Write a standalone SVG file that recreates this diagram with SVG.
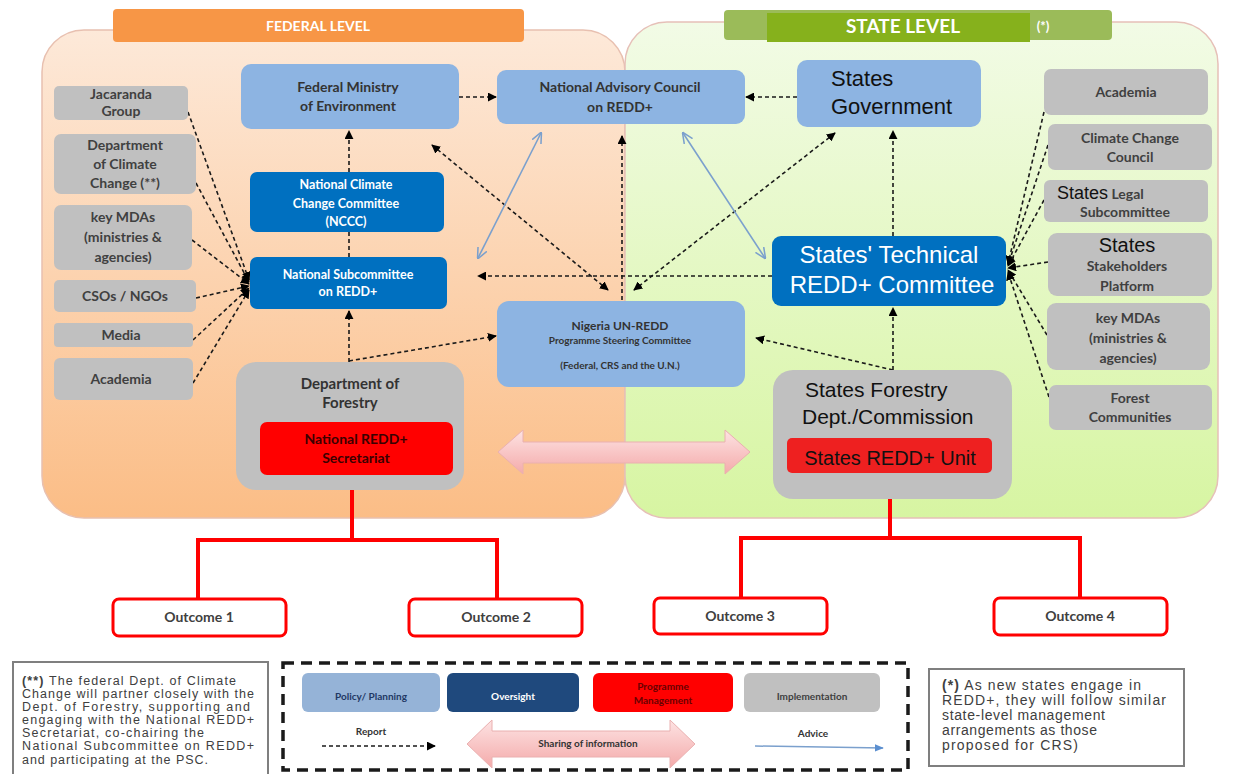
<svg xmlns="http://www.w3.org/2000/svg" width="1239" height="774" viewBox="0 0 1239 774">
<style>
.t{font-family:Lato,"Liberation Sans",sans-serif;font-weight:700;text-anchor:middle}
.g{fill:#c0c0c0}
.gt{fill:#404040;font-size:14px}
.lb{fill:#8db4e2}
.db{fill:#0070c0}
.a{font-family:"Liberation Sans",Arial,sans-serif}
.rep{fill:none;stroke:#1a1a1a;stroke-width:1.6;stroke-dasharray:4 3}
.adv{fill:none;stroke:#7ba0cd;stroke-width:1.6}
.red{fill:none;stroke:#ff0000;stroke-width:4}
.oc{fill:#fff;stroke:#ff0000;stroke-width:3}
.note{font-family:"Liberation Sans",Arial,sans-serif;fill:#404040}
</style>
<defs>
<linearGradient id="fedg" x1="0" y1="0" x2="0" y2="1"><stop offset="0" stop-color="#fde9d9"/><stop offset="1" stop-color="#fbbd86"/></linearGradient>
<linearGradient id="stg" x1="0" y1="0" x2="0" y2="1"><stop offset="0" stop-color="#f2fbe6"/><stop offset="1" stop-color="#d7f5a2"/></linearGradient>
<linearGradient id="pink" x1="0" y1="0" x2="0" y2="1"><stop offset="0" stop-color="#fde3e3"/><stop offset="1" stop-color="#f4aaaa"/></linearGradient>
<marker id="ah" viewBox="0 0 10 10" refX="9" refY="5" markerWidth="9" markerHeight="9" markerUnits="userSpaceOnUse" orient="auto-start-reverse"><path d="M0,0 L10,5 L0,10 z" fill="#000"/></marker>
<marker id="bh" viewBox="0 0 10 10" refX="9" refY="5" markerWidth="11" markerHeight="11" markerUnits="userSpaceOnUse" orient="auto-start-reverse"><path d="M0,0.5 L10,5 L0,9.5" fill="none" stroke="#7ba0cd" stroke-width="1.4"/></marker>
<marker id="bf" viewBox="0 0 10 10" refX="9" refY="5" markerWidth="9" markerHeight="9" markerUnits="userSpaceOnUse" orient="auto"><path d="M0,1 L10,5 L0,9 z" fill="#5b8fd0"/></marker>
</defs>

<g id="federal-panel">
<rect x="42" y="30" width="583" height="488" rx="42" fill="url(#fedg)" stroke="#e8c0b0" stroke-width="1.5"/>
<rect x="113" y="9" width="411" height="33" rx="4" fill="#f79646"/>
<text x="318" y="31" class="t" fill="#fff" font-size="14">FEDERAL LEVEL</text>
</g>
<g id="state-panel">
<rect x="625" y="22" width="593" height="496" rx="42" fill="url(#stg)" stroke="#e6c0b8" stroke-width="1.5"/>
<rect x="724" y="10" width="388" height="30" rx="4" fill="#9bbb59"/>
<rect x="767" y="13" width="263" height="29" fill="#86b11c"/>
<text x="903" y="33" class="t" fill="#fff" font-size="19" font-weight="700">STATE LEVEL</text>
<text x="1043" y="31" class="t" fill="#fff" font-size="13">(*)</text>
</g>

<g id="connectors">
<line class="rep" x1="188" y1="112" x2="249" y2="280" marker-end="url(#ah)"/>
<line class="rep" x1="196" y1="183" x2="249" y2="282" marker-end="url(#ah)"/>
<line class="rep" x1="192" y1="240" x2="249" y2="284" marker-end="url(#ah)"/>
<line class="rep" x1="196" y1="298" x2="249" y2="286" marker-end="url(#ah)"/>
<line class="rep" x1="193" y1="340" x2="249" y2="288" marker-end="url(#ah)"/>
<line class="rep" x1="193" y1="383" x2="249" y2="290" marker-end="url(#ah)"/>
<line class="rep" x1="1044" y1="112" x2="1008" y2="264" marker-end="url(#ah)"/>
<line class="rep" x1="1048" y1="145" x2="1008" y2="265" marker-end="url(#ah)"/>
<line class="rep" x1="1044" y1="200" x2="1008" y2="266" marker-end="url(#ah)"/>
<line class="rep" x1="1048" y1="262" x2="1008" y2="268" marker-end="url(#ah)"/>
<line class="rep" x1="1047" y1="335" x2="1008" y2="270" marker-end="url(#ah)"/>
<line class="rep" x1="1049" y1="397" x2="1008" y2="272" marker-end="url(#ah)"/>
<line class="rep" x1="459" y1="97" x2="496" y2="97" marker-end="url(#ah)"/>
<line class="rep" x1="797" y1="97" x2="746" y2="97" marker-end="url(#ah)"/>
<line class="rep" x1="349" y1="172" x2="349" y2="131" marker-end="url(#ah)"/>
<line class="rep" x1="349" y1="232" x2="349" y2="257"/>
<line class="rep" x1="349" y1="362" x2="349" y2="311" marker-end="url(#ah)"/>
<line class="rep" x1="349" y1="361" x2="496" y2="336" marker-end="url(#ah)"/>
<line class="rep" x1="432" y1="145" x2="608" y2="290" marker-start="url(#ah)" marker-end="url(#ah)"/>
<line class="rep" x1="835" y1="133" x2="634" y2="290" marker-start="url(#ah)" marker-end="url(#ah)"/>
<line class="rep" x1="622" y1="300" x2="622" y2="136" marker-end="url(#ah)"/>
<line class="rep" x1="772" y1="276" x2="478" y2="276" marker-end="url(#ah)"/>
<line class="rep" x1="893" y1="370" x2="756" y2="338" marker-end="url(#ah)"/>
<line class="rep" x1="893" y1="370" x2="893" y2="308" marker-end="url(#ah)"/>
<line class="rep" x1="893" y1="236" x2="893" y2="131" marker-end="url(#ah)"/>
<line class="adv" x1="541" y1="133" x2="478" y2="258" marker-start="url(#bh)" marker-end="url(#bh)"/>
<line class="adv" x1="683" y1="133" x2="765" y2="258" marker-start="url(#bh)" marker-end="url(#bh)"/>
<path d="M498,452 L523,430 L523,442 L725,442 L725,430 L750,452 L725,474 L725,463 L523,463 L523,474 Z" fill="url(#pink)" stroke="#eab0b0" stroke-width="1"/>
<polyline class="red" points="352,475 352,540"/>
<polyline class="red" points="198,600 198,540 497,540 497,600"/>
<polyline class="red" points="890,473 890,538"/>
<polyline class="red" points="741,598 741,538 1080,538 1080,598"/>
</g>

<g id="n-jacaranda"><rect class="g" x="54" y="86" width="134" height="34" rx="5"/><text class="t gt" x="121" y="99">Jacaranda</text><text class="t gt" x="121" y="116">Group</text></g>
<g id="n-dcc"><rect class="g" x="54" y="134" width="142" height="60" rx="7"/><text class="t gt" x="125" y="150">Department</text><text class="t gt" x="125" y="169">of Climate</text><text class="t gt" x="125" y="188">Change (**)</text></g>
<g id="n-mdas-fed"><rect class="g" x="54" y="205" width="138" height="65" rx="7"/><text class="t gt" x="123" y="222">key MDAs</text><text class="t gt" x="123" y="242">(ministries &amp;</text><text class="t gt" x="123" y="262">agencies)</text></g>
<g id="n-csos"><rect class="g" x="54" y="280" width="142" height="32" rx="5"/><text class="t gt" x="125" y="301">CSOs / NGOs</text></g>
<g id="n-media"><rect class="g" x="54" y="323" width="139" height="24" rx="4"/><text class="t gt" x="121" y="340">Media</text></g>
<g id="n-academia-fed"><rect class="g" x="54" y="358" width="139" height="42" rx="6"/><text class="t gt" x="121" y="384">Academia</text></g>

<g id="n-fme"><rect class="lb" x="241" y="64" width="218" height="65" rx="10"/><text class="t" fill="#333" font-size="14" x="348" y="92">Federal Ministry</text><text class="t" fill="#333" font-size="14" x="348" y="111">of Environment</text></g>
<g id="n-nac"><rect class="lb" x="497" y="70" width="248" height="54" rx="9"/><text class="t" fill="#333" font-size="14" x="620" y="92">National Advisory Council</text><text class="t" fill="#333" font-size="14" x="620" y="112">on REDD+</text></g>
<g id="n-stgov"><rect class="lb" x="797" y="60" width="184" height="67" rx="10"/><text class="a" fill="#111" font-size="22" x="831" y="86">States</text><text class="a" fill="#111" font-size="22" x="831" y="114">Government</text></g>
<g id="n-nccc"><rect class="db" x="250" y="172" width="194" height="60" rx="7"/><text class="t" fill="#fff" font-size="12.5" x="346" y="189">National Climate</text><text class="t" fill="#fff" font-size="12.5" x="346" y="208">Change Committee</text><text class="t" fill="#fff" font-size="12.5" x="346" y="226">(NCCC)</text></g>
<g id="n-nsc"><rect class="db" x="250" y="257" width="197" height="52" rx="7"/><text class="t" fill="#fff" font-size="12.5" x="348" y="279">National Subcommittee</text><text class="t" fill="#fff" font-size="12.5" x="348" y="296">on REDD+</text></g>
<g id="n-psc"><rect class="lb" x="497" y="301" width="248" height="86" rx="12"/><text class="t" fill="#333" font-size="12" x="620" y="330">Nigeria UN-REDD</text><text class="t" fill="#333" font-size="10" x="620" y="344">Programme Steering Committee</text><text class="t" fill="#333" font-size="10" x="620" y="369">(Federal, CRS and the U.N.)</text></g>
<g id="n-dof"><rect class="g" x="236" y="362" width="228" height="128" rx="20"/><text class="t" fill="#333" font-size="15" font-weight="400" x="350" y="389">Department of</text><text class="t" fill="#333" font-size="15" font-weight="400" x="350" y="408">Forestry</text><rect x="260" y="422" width="193" height="53" rx="7" fill="#ff0000"/><text class="t" fill="#3a0000" font-size="14" x="356" y="444">National REDD+</text><text class="t" fill="#3a0000" font-size="14" x="356" y="463">Secretariat</text></g>
<g id="n-strc"><rect class="db" x="772" y="236" width="234" height="70" rx="9"/><text class="a" fill="#fff" font-size="24" text-anchor="middle" x="889" y="263">States' Technical</text><text class="a" fill="#fff" font-size="24" text-anchor="middle" x="892" y="293">REDD+ Committee</text></g>
<g id="n-sfd"><rect class="g" x="773" y="370" width="239" height="129" rx="20"/><text class="a" fill="#111" font-size="21" x="805" y="397">States Forestry</text><text class="a" fill="#111" font-size="21" x="802" y="424">Dept./Commission</text><rect x="787" y="438" width="205" height="35" rx="5" fill="#ee2020"/><text class="a" fill="#111" font-size="20" text-anchor="middle" x="890" y="465">States REDD+ Unit</text></g>

<g id="n-academia-st"><rect class="g" x="1044" y="69" width="164" height="46" rx="7"/><text class="t gt" x="1126" y="97">Academia</text></g>
<g id="n-ccc"><rect class="g" x="1048" y="124" width="164" height="46" rx="7"/><text class="t gt" x="1130" y="143">Climate Change</text><text class="t gt" x="1130" y="162">Council</text></g>
<g id="n-legal"><rect class="g" x="1044" y="180" width="164" height="42" rx="6"/><text x="1057" y="199"><tspan class="a" fill="#111" font-size="18">States</tspan><tspan font-family="Lato,sans-serif" font-weight="700" fill="#404040" font-size="14"> Legal</tspan></text><text class="t gt" x="1125" y="217">Subcommittee</text></g>
<g id="n-stake"><rect class="g" x="1048" y="233" width="164" height="63" rx="9"/><text class="a" fill="#111" font-size="20" text-anchor="middle" x="1127" y="252">States</text><text class="t gt" x="1127" y="271">Stakeholders</text><text class="t gt" x="1127" y="291">Platform</text></g>
<g id="n-mdas-st"><rect class="g" x="1047" y="303" width="163" height="67" rx="9"/><text class="t gt" x="1128" y="323">key MDAs</text><text class="t gt" x="1128" y="343">(ministries &amp;</text><text class="t gt" x="1128" y="363">agencies)</text></g>
<g id="n-forest"><rect class="g" x="1049" y="385" width="163" height="45" rx="7"/><text class="t gt" x="1130" y="403">Forest</text><text class="t gt" x="1130" y="422">Communities</text></g>

<g id="n-out1"><rect class="oc" x="113" y="599" width="173" height="37" rx="6"/><text class="t gt" x="199" y="622">Outcome 1</text></g>
<g id="n-out2"><rect class="oc" x="409" y="599" width="173" height="37" rx="6"/><text class="t gt" x="496" y="622">Outcome 2</text></g>
<g id="n-out3"><rect class="oc" x="654" y="598" width="173" height="36" rx="6"/><text class="t gt" x="740" y="621">Outcome 3</text></g>
<g id="n-out4"><rect class="oc" x="994" y="598" width="173" height="37" rx="6"/><text class="t gt" x="1080" y="621">Outcome 4</text></g>

<g id="note-left">
<rect x="13" y="662" width="255" height="116" fill="#fff" stroke="#7f7f7f" stroke-width="2"/>
<text class="note" font-size="12.5" x="22" y="685" textLength="214" lengthAdjust="spacing"><tspan font-weight="700">(**)</tspan> The federal Dept. of Climate</text>
<text class="note" font-size="12.5" x="22" y="698" textLength="232" lengthAdjust="spacing">Change will partner closely with the</text>
<text class="note" font-size="12.5" x="22" y="711" textLength="228" lengthAdjust="spacing">Dept. of Forestry, supporting and</text>
<text class="note" font-size="12.5" x="22" y="724" textLength="232" lengthAdjust="spacing">engaging with the National REDD+</text>
<text class="note" font-size="12.5" x="22" y="737" textLength="182" lengthAdjust="spacing">Secretariat, co-chairing the</text>
<text class="note" font-size="12.5" x="22" y="750" textLength="232" lengthAdjust="spacing">National Subcommittee on REDD+</text>
<text class="note" font-size="12.5" x="22" y="764" textLength="186" lengthAdjust="spacing">and participating at the PSC.</text>
</g>

<g id="legend">
<rect x="283" y="663" width="625" height="107" fill="#fff" stroke="#1a1a1a" stroke-width="3.5" stroke-dasharray="11 7"/>
<rect x="302" y="673" width="138" height="39" rx="6" fill="#95b3d7"/><text class="t" fill="#1f3864" font-size="10" x="371" y="700">Policy/ Planning</text>
<rect x="447" y="673" width="132" height="39" rx="6" fill="#1f497d"/><text class="t" fill="#fff" font-size="10" x="513" y="700">Oversight</text>
<rect x="593" y="673" width="140" height="39" rx="6" fill="#ff0000"/><text class="t" fill="#6a0000" font-size="10" x="663" y="690">Programme</text><text class="t" fill="#6a0000" font-size="10" x="663" y="704">Management</text>
<rect x="744" y="673" width="136" height="39" rx="6" fill="#c0c0c0"/><text class="t" fill="#404040" font-size="10" x="812" y="700">Implementation</text>
<text class="t" fill="#333" font-size="10" font-weight="400" x="371" y="735">Report</text>
<line class="rep" x1="322" y1="746" x2="435" y2="746" marker-end="url(#ah)"/>
<path d="M467,744 L492,720 L492,731 L670,731 L670,720 L695,744 L670,768 L670,757 L492,757 L492,768 Z" fill="url(#pink)" stroke="#eab0b0" stroke-width="1"/>
<text class="t" fill="#333" font-size="10" font-weight="400" x="588" y="747">Sharing of information</text>
<text class="t" fill="#333" font-size="10" font-weight="400" x="813" y="737">Advice</text>
<line x1="755" y1="746" x2="883" y2="748" stroke="#7ba0cd" stroke-width="1.5" marker-end="url(#bf)"/>
</g>

<g id="note-right">
<rect x="929" y="669" width="255" height="97" fill="#fff" stroke="#7f7f7f" stroke-width="2"/>
<text class="note" font-size="14" x="942" y="690" textLength="199" lengthAdjust="spacing"><tspan font-weight="700">(*)</tspan> As new states engage in</text>
<text class="note" font-size="14" x="942" y="705" textLength="224" lengthAdjust="spacing">REDD+, they will follow similar</text>
<text class="note" font-size="14" x="942" y="720" textLength="163" lengthAdjust="spacing">state-level management</text>
<text class="note" font-size="14" x="942" y="735" textLength="155" lengthAdjust="spacing">arrangements as those</text>
<text class="note" font-size="14" x="942" y="750" textLength="136" lengthAdjust="spacing">proposed for CRS)</text>
</g>
</svg>
